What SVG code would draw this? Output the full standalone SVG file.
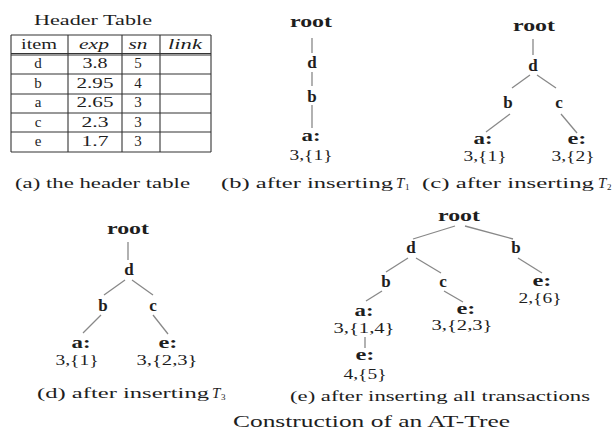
<svg xmlns="http://www.w3.org/2000/svg" width="612" height="437" viewBox="0 0 612 437">
<style>
text{font-family:"Liberation Serif","Times New Roman",serif;fill:#1e1e1e;}
.t{font-size:15px;text-anchor:middle;}
.i{font-style:italic;}
.n{font-size:17px;font-weight:bold;text-anchor:middle;}
.v{font-size:14px;text-anchor:middle;}
.cap{font-size:15px;}
.grid line{stroke:#333;stroke-width:1.1;}
.edges line{stroke:#888;stroke-width:1.3;}
</style>
<rect width="612" height="437" fill="#fff"/>

<g id="header-table">
<text class="t" x="93" y="25" textLength="118" lengthAdjust="spacingAndGlyphs">Header Table</text>
<g class="grid">
<line x1="11" y1="35" x2="211" y2="35"/>
<line x1="11" y1="53.5" x2="211" y2="53.5"/>
<line x1="11" y1="55" x2="211" y2="55"/>
<line x1="11" y1="74" x2="211" y2="74"/>
<line x1="11" y1="94" x2="211" y2="94"/>
<line x1="11" y1="113" x2="211" y2="113"/>
<line x1="11" y1="132" x2="211" y2="132"/>
<line x1="11" y1="152" x2="211" y2="152"/>
<line x1="11" y1="35" x2="11" y2="152"/>
<line x1="68" y1="35" x2="68" y2="152"/>
<line x1="122" y1="35" x2="122" y2="152"/>
<line x1="160" y1="35" x2="160" y2="152"/>
<line x1="211" y1="35" x2="211" y2="152"/>
</g>
<text class="t" x="39" y="49" textLength="36" lengthAdjust="spacingAndGlyphs">item</text>
<text class="t i" x="94" y="49" textLength="30" lengthAdjust="spacingAndGlyphs">exp</text>
<text class="t i" x="138" y="49" textLength="19" lengthAdjust="spacingAndGlyphs">sn</text>
<text class="t i" x="185" y="49" textLength="34" lengthAdjust="spacingAndGlyphs">link</text>
<text class="t" x="38" y="68">d</text>
<text class="t" x="95" y="68" textLength="25" lengthAdjust="spacingAndGlyphs">3.8</text>
<text class="t" x="138" y="68">5</text>
<text class="t" x="38" y="88">b</text>
<text class="t" x="95" y="88" textLength="37" lengthAdjust="spacingAndGlyphs">2.95</text>
<text class="t" x="138" y="88">4</text>
<text class="t" x="38" y="107">a</text>
<text class="t" x="95" y="107" textLength="37" lengthAdjust="spacingAndGlyphs">2.65</text>
<text class="t" x="138" y="107">3</text>
<text class="t" x="38" y="127">c</text>
<text class="t" x="95" y="127" textLength="27" lengthAdjust="spacingAndGlyphs">2.3</text>
<text class="t" x="138" y="127">3</text>
<text class="t" x="38" y="146">e</text>
<text class="t" x="95" y="146" textLength="27" lengthAdjust="spacingAndGlyphs">1.7</text>
<text class="t" x="138" y="146">3</text>
</g>

<g class="edges" id="connectors">
<line x1="312" y1="38" x2="312" y2="53"/>
<line x1="312" y1="72" x2="312" y2="86"/>
<line x1="312" y1="105" x2="312" y2="128"/>
<line x1="533" y1="39" x2="533" y2="55"/>
<line x1="530" y1="75" x2="512" y2="88"/>
<line x1="537" y1="75" x2="556" y2="88"/>
<line x1="510" y1="114" x2="486" y2="132"/>
<line x1="561" y1="114" x2="577" y2="133"/>
<line x1="128" y1="242" x2="128" y2="260"/>
<line x1="125" y1="280" x2="104" y2="295"/>
<line x1="132" y1="280" x2="153" y2="295"/>
<line x1="101" y1="315" x2="83" y2="333"/>
<line x1="153" y1="315" x2="168" y2="334"/>
<line x1="455" y1="226" x2="413" y2="239"/>
<line x1="465" y1="226" x2="513" y2="239"/>
<line x1="408" y1="258" x2="386" y2="272"/>
<line x1="416" y1="258" x2="441" y2="273"/>
<line x1="382" y1="291" x2="366" y2="301"/>
<line x1="444" y1="291" x2="463" y2="302"/>
<line x1="518" y1="258" x2="542" y2="273"/>
<line x1="365" y1="337" x2="365" y2="348"/>
</g>

<g id="b-root"><text class="n" x="311" y="27" textLength="42" lengthAdjust="spacingAndGlyphs">root</text></g>
<g id="b-d"><text class="n" x="312" y="68">d</text></g>
<g id="b-b"><text class="n" x="312" y="102">b</text></g>
<g id="b-a"><text class="n" x="311" y="141" textLength="19" lengthAdjust="spacingAndGlyphs">a:</text><text class="v" x="311" y="160" textLength="43" lengthAdjust="spacingAndGlyphs">3,{1}</text></g>
<g id="cap-b"><text class="cap" x="221" y="188" textLength="172" lengthAdjust="spacingAndGlyphs">(b) after inserting</text><text class="cap i" x="396" y="188">T</text><text x="405" y="190" font-size="9">1</text></g>

<g id="c-root"><text class="n" x="534" y="31" textLength="42" lengthAdjust="spacingAndGlyphs">root</text></g>
<g id="c-d"><text class="n" x="533" y="71">d</text></g>
<g id="c-b"><text class="n" x="508" y="108">b</text></g>
<g id="c-c"><text class="n" x="559" y="108">c</text></g>
<g id="c-a"><text class="n" x="483" y="144" textLength="19" lengthAdjust="spacingAndGlyphs">a:</text><text class="v" x="485" y="161" textLength="43" lengthAdjust="spacingAndGlyphs">3,{1}</text></g>
<g id="c-e"><text class="n" x="577" y="144" textLength="19" lengthAdjust="spacingAndGlyphs">e:</text><text class="v" x="573" y="161" textLength="43" lengthAdjust="spacingAndGlyphs">3,{2}</text></g>
<g id="cap-c"><text class="cap" x="422" y="188" textLength="172" lengthAdjust="spacingAndGlyphs">(c) after inserting</text><text class="cap i" x="598" y="188">T</text><text x="607" y="190" font-size="9">2</text></g>

<g id="cap-a"><text class="cap" x="15" y="188" textLength="175" lengthAdjust="spacingAndGlyphs">(a) the header table</text></g>

<g id="d-root"><text class="n" x="128" y="234" textLength="42" lengthAdjust="spacingAndGlyphs">root</text></g>
<g id="d-d"><text class="n" x="129" y="275">d</text></g>
<g id="d-b"><text class="n" x="103" y="311">b</text></g>
<g id="d-c"><text class="n" x="153" y="311">c</text></g>
<g id="d-a"><text class="n" x="81" y="348" textLength="19" lengthAdjust="spacingAndGlyphs">a:</text><text class="v" x="77" y="365" textLength="43" lengthAdjust="spacingAndGlyphs">3,{1}</text></g>
<g id="d-e"><text class="n" x="168" y="348" textLength="19" lengthAdjust="spacingAndGlyphs">e:</text><text class="v" x="167" y="365" textLength="61" lengthAdjust="spacingAndGlyphs">3,{2,3}</text></g>
<g id="cap-d"><text class="cap" x="37" y="398" textLength="172" lengthAdjust="spacingAndGlyphs">(d) after inserting</text><text class="cap i" x="212" y="398">T</text><text x="221" y="400" font-size="9">3</text></g>

<g id="e-root"><text class="n" x="459" y="221" textLength="42" lengthAdjust="spacingAndGlyphs">root</text></g>
<g id="e-d"><text class="n" x="411" y="253">d</text></g>
<g id="e-b2"><text class="n" x="516" y="253">b</text></g>
<g id="e-b"><text class="n" x="386" y="287">b</text></g>
<g id="e-c"><text class="n" x="443" y="287">c</text></g>
<g id="e-a"><text class="n" x="364" y="316" textLength="19" lengthAdjust="spacingAndGlyphs">a:</text><text class="v" x="364" y="333" textLength="61" lengthAdjust="spacingAndGlyphs">3,{1,4}</text></g>
<g id="e-e1"><text class="n" x="466" y="314" textLength="19" lengthAdjust="spacingAndGlyphs">e:</text><text class="v" x="462" y="330" textLength="61" lengthAdjust="spacingAndGlyphs">3,{2,3}</text></g>
<g id="e-e2"><text class="n" x="542" y="286" textLength="19" lengthAdjust="spacingAndGlyphs">e:</text><text class="v" x="540" y="303" textLength="43" lengthAdjust="spacingAndGlyphs">2,{6}</text></g>
<g id="e-e3"><text class="n" x="365" y="360" textLength="19" lengthAdjust="spacingAndGlyphs">e:</text><text class="v" x="365" y="379" textLength="43" lengthAdjust="spacingAndGlyphs">4,{5}</text></g>
<g id="cap-e"><text class="cap" x="290" y="401" textLength="300" lengthAdjust="spacingAndGlyphs">(e) after inserting all transactions</text></g>

<g id="title"><text x="233" y="427" font-size="16" textLength="277" lengthAdjust="spacingAndGlyphs">Construction of an AT-Tree</text></g>
</svg>
